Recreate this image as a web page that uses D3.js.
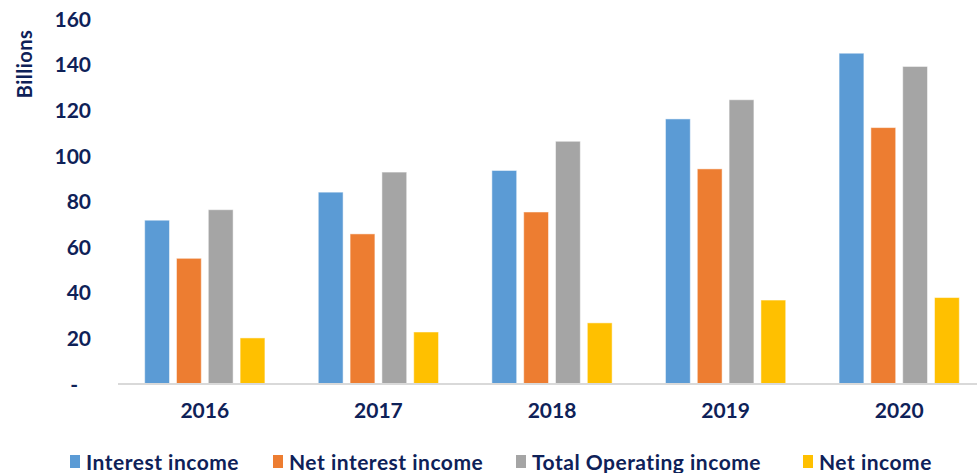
<!DOCTYPE html>
<html>
<head>
<meta charset="utf-8">
<script src="https://cdn.jsdelivr.net/npm/d3@7"></script>
<style>
  body { margin: 0; background: #fff; }
  text { font-family: Lato, "Open Sans", sans-serif; font-weight: 700; fill: #0e2158; }
</style>
</head>
<body>
<svg id="chart" width="977" height="473"></svg>
<script>
var years = ["2016", "2017", "2018", "2019", "2020"]
var seriesNames = ["Interest income", "Net interest income", "Total Operating income", "Net income"]
var interestIncome = [71.8, 84.1, 93.6, 116.2, 145.0]
var netInterestIncome = [55.1, 65.8, 75.4, 94.3, 112.4]
var totalOperatingIncome = [76.4, 92.9, 106.4, 124.6, 139.2]
var netIncome = [20.2, 22.8, 26.8, 36.8, 37.9]
var yTicks = [0, 20, 40, 60, 80, 100, 120, 140, 160]
var colors = ["#5b9bd5", "#ed7d31", "#a5a5a5", "#ffc000"]

var allSeries = [interestIncome, netInterestIncome, totalOperatingIncome, netIncome]

var svg = d3.select("#chart")
// plot area runs a little past the right edge of the picture
var plotLeft = 118, plotRight = 986, plotTop = 19, plotBottom = 384

var x0 = d3.scaleBand().domain(years).range([plotLeft, plotRight]).paddingInner(0.267).paddingOuter(0.1335)
var x1 = d3.scaleBand().domain(d3.range(4)).range([0, x0.bandwidth()]).paddingInner(0.22).paddingOuter(0.11)
var y = d3.scaleLinear().domain([0, 160]).range([plotBottom, plotTop])

// bars
var groups = svg.append("g").selectAll("g")
    .data(years)
    .join("g")
    .attr("transform", function(d) { return "translate(" + x0(d) + ",0)" })

groups.selectAll("rect")
    .data(function(d, i) { return allSeries.map(function(s, k) { return {k: k, v: s[i]} }) })
    .join("rect")
    .attr("x", function(d) { return x1(d.k) })
    .attr("width", x1.bandwidth())
    .attr("y", function(d) { return y(d.v) })
    .attr("height", function(d) { return y(0) - y(d.v) })
    .attr("fill", function(d) { return colors[d.k] })
    .attr("stroke", "#ffffff")
    .attr("stroke-opacity", 0.5)
    .attr("stroke-width", 1)

// baseline
svg.append("line")
    .attr("x1", plotLeft).attr("x2", plotRight)
    .attr("y1", y(0)).attr("y2", y(0))
    .attr("stroke", "#d9d9d9")
    .attr("stroke-width", 2)

// y axis
var yAxis = d3.axisLeft(y).tickValues(yTicks).tickSize(0).tickPadding(0)
    .tickFormat(function(d) { return d === 0 ? "-" : d })
var yG = svg.append("g").attr("transform", "translate(91,0)").call(yAxis)
yG.select(".domain").remove()
yG.selectAll("text").style("font-size", "21px").attr("dy", "0.34em")
yG.selectAll(".tick").filter(function(d) { return d === 0 }).select("text").attr("dx", -13)

svg.append("text")
    .attr("transform", "translate(32,64) rotate(-90)")
    .attr("text-anchor", "middle")
    .style("font-size", "20px")
    .style("letter-spacing", "0.5px")
    .text("Billions")

// x axis
var xAxis = d3.axisBottom(x0).tickSize(0).tickPadding(0)
var xG = svg.append("g").attr("transform", "translate(0," + plotBottom + ")").call(xAxis)
xG.select(".domain").remove()
xG.selectAll("text").style("font-size", "21px").attr("dy", "1.6em")

// legend
var legendX = [70, 273, 516, 803]
var legend = svg.append("g").selectAll("g")
    .data(seriesNames)
    .join("g")
    .attr("transform", function(d, i) { return "translate(" + legendX[i] + ",455)" })
legend.append("rect").attr("width", 10).attr("height", 13)
    .attr("fill", function(d, i) { return colors[i] })
legend.append("text").attr("x", 16).attr("y", 15)
    .style("font-size", "21px")
    .style("letter-spacing", "0.5px")
    .text(function(d) { return d })
</script>
</body>
</html>
